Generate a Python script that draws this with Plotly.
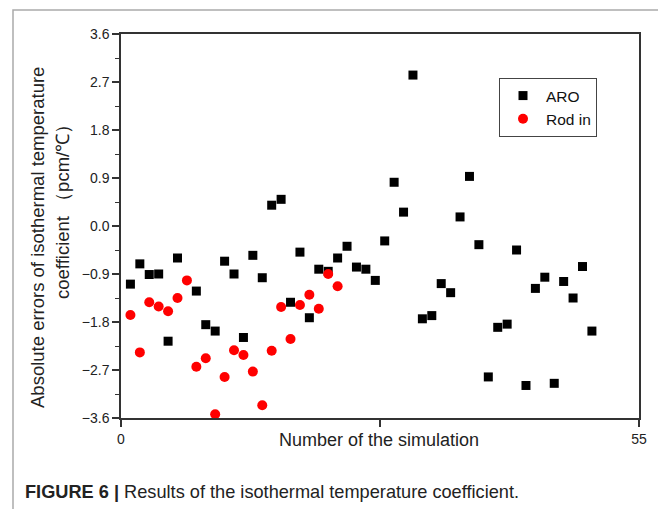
import plotly.graph_objects as go

# ---- data ----
aro_x = [1, 2, 3, 4, 5, 6, 8, 9, 10, 11, 12, 13, 14, 15, 16, 17, 18, 19, 20,
         21, 22, 23, 24, 25, 26, 27, 28, 29, 30, 31, 32, 33, 34, 35, 36, 37,
         38, 39, 40, 41, 42, 43, 44, 45, 46, 47, 48, 49, 50]
aro_y = [-1.09, -0.71, -0.91, -0.90, -2.16, -0.60, -1.22, -1.85, -1.97, -0.66,
         -0.90, -2.09, -0.55, -0.97, 0.39, 0.50, -1.43, -0.49, -1.72, -0.81,
         -0.85, -0.60, -0.38, -0.77, -0.81, -1.02, -0.28, 0.82, 0.26, 2.83,
         -1.74, -1.68, -1.08, -1.25, 0.17, 0.93, -0.35, -2.83, -1.90, -1.84,
         -0.45, -2.99, -1.17, -0.96, -2.95, -1.04, -1.35, -0.76, -1.97]

rod_x = list(range(1, 24))
rod_y = [-1.67, -2.37, -1.43, -1.51, -1.60, -1.35, -1.02, -2.64, -2.48, -3.53,
         -2.83, -2.33, -2.42, -2.73, -3.36, -2.34, -1.52, -2.12, -1.48, -1.29,
         -1.55, -0.90, -1.13]

y_ticks = [-3.6, -2.7, -1.8, -0.9, 0.0, 0.9, 1.8, 2.7, 3.6]
x_ticks = [0, 27.5, 55]
x_ticktext = ["0", "", "55"]

FONT = "Liberation Sans, Arial, sans-serif"

fig = go.Figure()
fig.add_trace(go.Scatter(
    x=aro_x, y=aro_y, mode="markers", name="ARO",
    marker=dict(symbol="square", size=9, color="black"),
    cliponaxis=False))
fig.add_trace(go.Scatter(
    x=rod_x, y=rod_y, mode="markers", name="Rod in",
    marker=dict(symbol="circle", size=10, color="#ff0000"),
    cliponaxis=False))

# page has an 8px body margin: work in page coordinates and convert
OFF = 8
W, H = 666 - OFF, 509 - OFF
PL, PR, PT, PB = 121, 639, 34, 418          # plot area in page pixels
L, T = PL - OFF, PT - OFF
R = W - (PR - OFF)
B = H - (PB - OFF)
pw, ph = PR - PL, PB - PT

def px(xp):
    return (xp - PL) / pw

def py(yp):
    return (PB - yp) / ph

fig.update_layout(
    width=W, height=H,
    margin=dict(l=L, r=R, t=T, b=B),
    paper_bgcolor="white", plot_bgcolor="white",
    font=dict(family=FONT, color="#222", size=14),
    showlegend=True,
    legend=dict(
        x=px(499), y=py(78), xanchor="left", yanchor="top",
        bordercolor="#444", borderwidth=1, bgcolor="white",
        font=dict(size=15.5, family=FONT, color="#111"),
        itemwidth=36, tracegroupgap=0,
    ),
    xaxis=dict(
        range=[0, 55], tickvals=x_ticks, ticktext=x_ticktext,
        ticks="outside", ticklen=7, tickwidth=1.5, tickcolor="#333",
        showline=True, linecolor="#333", linewidth=1.5, mirror=True,
        showgrid=False, zeroline=False,
        tickfont=dict(size=14, family=FONT, color="#222"),
    ),
    yaxis=dict(
        range=[-3.6, 3.6], tickvals=y_ticks, tickformat=".1f",
        ticks="outside", ticklen=7, tickwidth=1.5, tickcolor="#333",
        minor=dict(ticks="outside", ticklen=4, tickcolor="#333",
                   tickwidth=1.2, dtick=0.45, tick0=0),
        showline=True, linecolor="#333", linewidth=1.5, mirror=True,
        showgrid=False, zeroline=False,
        tickfont=dict(size=14, family=FONT, color="#222"),
    ),
)

# x-axis title
fig.add_annotation(
    x=px(379), y=py(440), xref="paper", yref="paper",
    text="Number of the simulation", showarrow=False,
    font=dict(size=18, family=FONT, color="#222"),
    xanchor="center", yanchor="middle")

# y-axis title (two lines)
fig.add_annotation(
    x=px(37), y=py(238), xref="paper", yref="paper",
    text="Absolute errors of isothermal temperature", textangle=-90,
    showarrow=False, font=dict(size=18.5, family=FONT, color="#222"),
    xanchor="center", yanchor="middle")
fig.add_annotation(
    x=px(62), y=py(207), xref="paper", yref="paper",
    text="coefficient （pcm/℃）", textangle=-90,
    showarrow=False, font=dict(size=18.5, family=FONT, color="#222"),
    xanchor="center", yanchor="middle")

# caption
fig.add_annotation(
    x=px(23), y=py(492), xref="paper", yref="paper",
    text="<b>FIGURE 6 |</b> Results of the isothermal temperature coefficient.",
    showarrow=False, font=dict(size=18.2, family=FONT, color="#222"),
    xanchor="left", yanchor="middle")

# card border
fig.add_shape(type="rect", xref="paper", yref="paper",
              x0=px(13), x1=px(662), y0=py(540), y1=py(10),
              line=dict(color="#aaaaaa", width=1.5), layer="below")

fig.write_html("out.html")
